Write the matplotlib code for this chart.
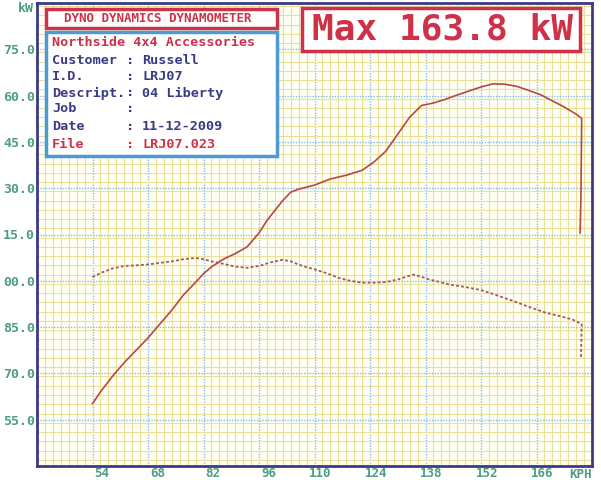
import matplotlib
matplotlib.use('Agg')
import matplotlib.pyplot as plt
import matplotlib.transforms as mtransforms
from matplotlib.patches import Rectangle
from matplotlib.ticker import MultipleLocator

# power curve: road speed (km/h) vs power (kW)
power_speed = [54, 56, 59, 62, 65, 68, 71, 74, 77, 80, 82, 84, 87, 90, 93, 96,
               98, 100, 102, 104, 106, 110, 114, 118, 122, 125, 128, 131, 134,
               137, 140, 143, 146, 149, 152, 155, 158, 161, 164, 167, 170, 173,
               176, 177.4, 177.3, 177.2, 177.0]
power_kw = [60.2, 64, 69, 73.5, 77.5, 81.5, 86, 90.5, 95.5, 99.5, 102.3, 104.5,
            107, 108.8, 111, 115.5, 119.5, 122.8, 126, 128.7, 129.7, 131, 133,
            134.2, 135.8, 138.5, 142, 147.5, 153, 156.8, 157.6, 158.8, 160.2,
            161.5, 162.8, 163.8, 163.7, 163, 161.7, 160.3, 158.3, 156.3, 154,
            152.6, 140, 127, 115.5]

# dotted trace
trace_speed = [54, 56, 59, 62, 65, 68, 71, 74, 77, 80, 82, 84, 87, 90, 93, 96,
               99, 102, 104, 107, 110, 113, 116, 119, 122, 125, 128, 131, 133,
               135, 137, 139, 141, 144, 148, 152, 156, 160, 164, 168, 172, 175,
               177.4, 177.3, 177.2]
trace_val = [101.2, 102.5, 104, 104.8, 105, 105.3, 105.8, 106.3, 107, 107.4,
             107, 106.3, 105.5, 104.6, 104.2, 104.8, 106, 106.8, 106.3, 104.8,
             103.7, 102.5, 101, 100, 99.4, 99.4, 99.6, 100.4, 101.3, 102,
             101.3, 100.4, 99.8, 98.8, 98, 97, 95.3, 93.5, 91.6, 89.8, 88.5,
             87.5, 86, 80, 75]

x_ticks = [54, 68, 82, 96, 110, 124, 138, 152, 166]
y_ticks = [55, 70, 85, 100, 115, 130, 145, 160, 175]
y_tick_labels = ['55.0', '70.0', '85.0', '00.0', '15.0', '30.0', '45.0', '60.0', '75.0']

info_labels = ['Customer', 'I.D.', 'Descript.', 'Job', 'Date', 'File']
info_values = ['Russell', 'LRJ07', '04 Liberty', '', '11-12-2009', 'LRJ07.023']

W, H = 601, 480
navy = '#3a3a88'
teal = '#4e9c84'
red = '#cf3147'
boxblue = '#4d9ad6'
mono = 'DejaVu Sans Mono'

fig = plt.figure(figsize=(W / 100, H / 100), dpi=100, facecolor='white')
ax = fig.add_axes([37 / W, 1 - 466 / H, (592 - 37) / W, (466 - 3) / H])
ax.set_facecolor('#fffff6')

ax.plot(power_speed, power_kw, color='#b8483e', lw=1.2, zorder=3)
ax.plot(trace_speed, trace_val, color='#a4585a', lw=1.3,
        linestyle=(0, (1.6, 1.2)), zorder=3)

ax.set_xlim(40, 180)
ax.set_ylim(40, 190)
ax.set_xticks(x_ticks, labels=[str(v) for v in x_ticks])
ax.set_yticks(y_ticks, labels=y_tick_labels)
ax.xaxis.set_minor_locator(MultipleLocator(2))
ax.yaxis.set_minor_locator(MultipleLocator(3))
ax.grid(which='minor', color='#eae09a', lw=0.8, zorder=0)
ax.grid(which='major', color='#84bde2', lw=1.0, linestyle=(0, (1, 1)), zorder=1)
ax.set_axisbelow(True)
ax.tick_params(which='both', length=0)
ax.tick_params(axis='y', pad=1.5)
ax.tick_params(axis='x', pad=0.8)
for lbl in ax.get_xticklabels() + ax.get_yticklabels():
    lbl.set_fontfamily(mono)
    lbl.set_fontweight('bold')
    lbl.set_fontsize(9.5)
    lbl.set_color(teal)
for lbl in ax.get_xticklabels():
    lbl.set_fontsize(9)
shift = mtransforms.ScaledTranslation(17 / 100, 0, fig.dpi_scale_trans)
for lbl in ax.get_xticklabels():
    lbl.set_ha('right')
    lbl.set_transform(lbl.get_transform() + shift)

for sp in ax.spines.values():
    sp.set_color(navy)
    sp.set_linewidth(2)


def px(x, y):
    return x / W, 1 - y / H


def box(x0, y0, x1, y1, color):
    r = Rectangle((x0 / W, 1 - y1 / H), (x1 - x0) / W, (y1 - y0) / H,
                  transform=fig.transFigure, facecolor='white',
                  edgecolor=color, lw=2.5, zorder=5)
    fig.add_artist(r)


fig.text(*px(26, 8), 'kW', color=teal, fontsize=9.5, family=mono,
         weight='bold', ha='center', va='center')
fig.text(*px(592, 474), 'KPH', color=teal, fontsize=9, family=mono,
         weight='bold', ha='right', va='center')

# header boxes
box(46, 9, 277, 28, red)
fig.text(*px(158, 18.5), 'DYNO DYNAMICS DYNAMOMETER', color=red, fontsize=9,
         family=mono, weight='bold', ha='center', va='center', zorder=6)

box(46, 32, 277, 156, boxblue)
fig.text(*px(52, 42), 'Northside 4x4 Accessories', color=red, fontsize=9.7,
         family=mono, weight='bold', ha='left', va='center', zorder=6)
row_y = [60, 77, 93, 109, 126, 144]
for i, (lab, val) in enumerate(zip(info_labels, info_values)):
    c = red if lab == 'File' else navy
    fig.text(*px(52, row_y[i]), lab, color=c, fontsize=9.7, family=mono,
             weight='bold', ha='left', va='center', zorder=6)
    fig.text(*px(126, row_y[i]), ':', color=c, fontsize=9.7, family=mono,
             weight='bold', ha='left', va='center', zorder=6)
    if val:
        fig.text(*px(142, row_y[i]), val, color=c, fontsize=9.7, family=mono,
                 weight='bold', ha='left', va='center', zorder=6)

box(302, 8, 580, 51, red)
fig.text(*px(442, 30), 'Max 163.8 kW', color=red, fontsize=26, family=mono,
         weight='bold', ha='center', va='center', zorder=6)

fig.savefig('out.png', dpi=100)
